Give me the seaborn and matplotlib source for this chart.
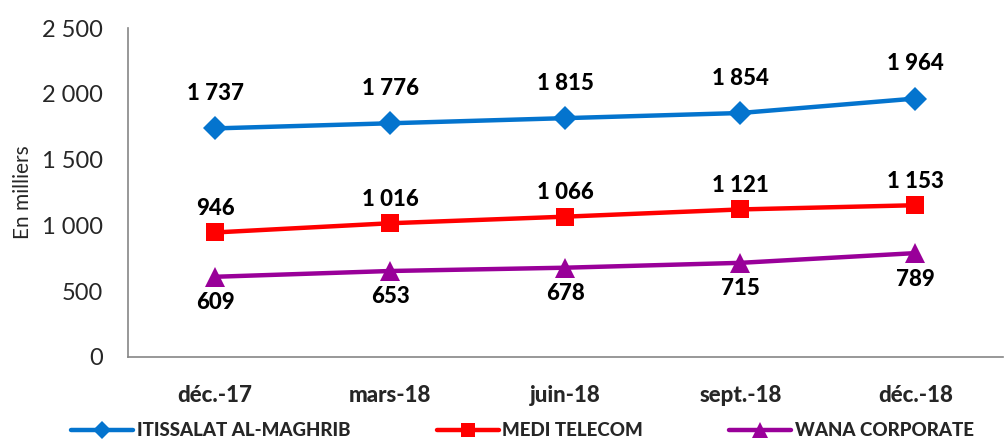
import matplotlib
matplotlib.use("Agg")
import matplotlib.pyplot as plt
import seaborn as sns
import pandas as pd
from matplotlib.lines import Line2D

categories = ["déc.-17", "mars-18", "juin-18", "sept.-18", "déc.-18"]
series_names = ["ITISSALAT AL-MAGHRIB", "MEDI TELECOM", "WANA CORPORATE"]
iam = [1737, 1776, 1815, 1854, 1964]
medi = [946, 1016, 1066, 1121, 1153]
wana = [609, 653, 678, 715, 789]
y_ticks = [0, 500, 1000, 1500, 2000, 2500]

colors = {"ITISSALAT AL-MAGHRIB": "#0474CE", "MEDI TELECOM": "#FF0000", "WANA CORPORATE": "#990099"}
markers = {"ITISSALAT AL-MAGHRIB": "D", "MEDI TELECOM": "s", "WANA CORPORATE": "^"}
msize = {"ITISSALAT AL-MAGHRIB": 12, "MEDI TELECOM": 13, "WANA CORPORATE": 14}

sns.set_style("white")
FONT = ["Lato", "DejaVu Sans"]
plt.rcParams["font.family"] = FONT

rows = []
for name, vals in zip(series_names, [iam, medi, wana]):
    for c, v in zip(categories, vals):
        rows.append({"cat": c, "val": v, "serie": name})
df = pd.DataFrame(rows)

fig = plt.figure(figsize=(10.05, 4.45), dpi=100)
ax = fig.add_axes([0.127, 0.198, 0.871, 0.739])

for name in series_names:
    sub = df[df.serie == name]
    sns.lineplot(data=sub, x="cat", y="val", ax=ax, color=colors[name],
                 marker=markers[name], markersize=msize[name], markeredgewidth=0,
                 linewidth=3.2, legend=False, sort=False)

offsets = {"ITISSALAT AL-MAGHRIB": 35, "MEDI TELECOM": 24, "WANA CORPORATE": -26}
for name, vals in zip(series_names, [iam, medi, wana]):
    for i, v in enumerate(vals):
        lbl = f"{v:,}".replace(",", " ")
        ax.annotate(lbl, (i, v), xytext=(0, offsets[name]), textcoords="offset pixels",
                    ha="center", va="center", fontsize=16, fontweight="black", color="black")

ax.set_xlim(-0.5, 4.5)
ax.set_ylim(0, 2500)
ax.set_yticks(y_ticks)
ax.set_yticklabels([f"{t:,}".replace(",", " ") for t in y_ticks], fontsize=17)
ax.set_xticks(range(len(categories)))
ax.set_xticklabels(categories, fontsize=16, fontweight="black")
ax.tick_params(axis="x", length=0, pad=20)
ax.set_xticks([i - 0.5 for i in range(len(categories) + 1)], minor=True)
ax.tick_params(axis="x", which="minor", length=6, color="#868686", width=1.2, direction="out")
ax.tick_params(axis="y", length=8, color="#868686", width=1.2, direction="out", pad=10)
ax.set_xlabel("")
ax.set_ylabel("En milliers", fontsize=15, labelpad=6)
for s in ["top", "right"]:
    ax.spines[s].set_visible(False)
for s in ["left", "bottom"]:
    ax.spines[s].set_color("#868686")
    ax.spines[s].set_linewidth(1.2)

handles = [Line2D([0], [0], color=colors[n], marker=markers[n], markersize=msize[n] * 0.8,
                  markeredgewidth=0, linewidth=3.2) for n in series_names]
leg = fig.legend(handles, series_names, loc="lower center", bbox_to_anchor=(0.52, -0.025),
                 ncol=3, frameon=False, columnspacing=4.6, handlelength=3.3, handletextpad=0.2,
                 fontsize=13.5)
for t in leg.get_texts():
    t.set_fontweight("black")

fig.savefig("out.png", dpi=100)
